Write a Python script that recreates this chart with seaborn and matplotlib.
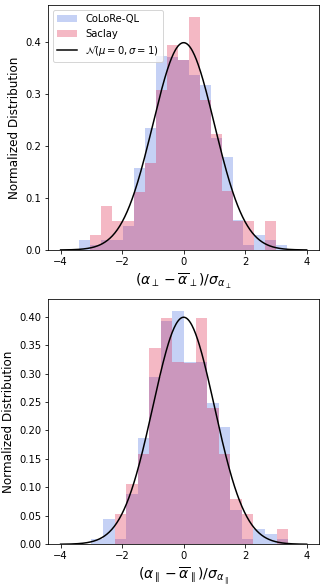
import numpy as np
import pandas as pd
import seaborn as sns
import matplotlib
matplotlib.use("Agg")
import matplotlib.pyplot as plt

# bin edges for each panel
perp_edges = list(np.linspace(-3.40, 3.37, 20))
par_edges = list(np.linspace(-3.00, 3.40, 18))

# normalized densities
perp_colore = [0.019, 0.010, 0.019, 0.019, 0.047, 0.157, 0.234, 0.374, 0.372, 0.365,
               0.336, 0.317, 0.215, 0.178, 0.057, 0.0096, 0.029, 0.019, 0.0096]
perp_saclay = [0.0, 0.028, 0.085, 0.056, 0.056, 0.111, 0.167, 0.307, 0.394, 0.365,
               0.449, 0.288, 0.224, 0.113, 0.056, 0.056, 0.0, 0.056, 0.0]

par_colore = [0.0088, 0.044, 0.0093, 0.089, 0.186, 0.294, 0.392, 0.410, 0.320,
              0.320, 0.249, 0.206, 0.060, 0.0093, 0.027, 0.018, 0.0093]
par_saclay = [0.0, 0.0, 0.053, 0.106, 0.159, 0.345, 0.398, 0.320, 0.318,
              0.398, 0.239, 0.159, 0.080, 0.053, 0.0, 0.0, 0.027]

xlabels = [r'$(\alpha_\perp - \overline{\alpha}_\perp)/\sigma_{\alpha_\perp}$',
           r'$(\alpha_\parallel - \overline{\alpha}_\parallel)/\sigma_{\alpha_\parallel}$']

xg = np.linspace(-4, 4, 400)
gauss = np.exp(-xg**2 / 2) / np.sqrt(2 * np.pi)

fig = plt.figure(figsize=(4.5, 586 / 72), dpi=72)
ax1 = fig.add_axes([0.149, 0.5734, 0.8356, 0.4181])
ax2 = fig.add_axes([0.149, 0.0712, 0.8356, 0.4181])

panels = [(ax1, perp_edges, perp_colore, perp_saclay, xlabels[0]),
          (ax2, par_edges, par_colore, par_saclay, xlabels[1])]

for ax, edges, colore, saclay, xl in panels:
    e = np.array(edges)
    df = pd.DataFrame({'c': 0.5 * (e[:-1] + e[1:]), 'colore': colore, 'saclay': saclay})
    sns.histplot(data=df, x='c', weights='colore', bins=edges, stat='count',
                 color='royalblue', alpha=0.3, linewidth=0,
                 label='CoLoRe-QL', ax=ax)
    sns.histplot(data=df, x='c', weights='saclay', bins=edges, stat='count',
                 color='crimson', alpha=0.3, linewidth=0,
                 label='Saclay', ax=ax)
    sns.lineplot(x=xg, y=gauss, color='black', lw=1.5,
                 label=r'$\mathcal{N}(\mu=0,\sigma=1)$', ax=ax, legend=False)
    ax.set_xlabel(xl, fontsize=14)
    ax.set_ylabel('Normalized Distribution', fontsize=12)
    ax.set_xticks([-4, -2, 0, 2, 4])
    ax.tick_params(labelsize=10)
    ax.margins(x=0.05, y=0.05)
    ax.set_ylim(bottom=0)

h, l = ax1.get_legend_handles_labels()
order = [l.index('CoLoRe-QL'), l.index('Saclay'), l.index(r'$\mathcal{N}(\mu=0,\sigma=1)$')]
ax1.legend([h[i] for i in order], [l[i] for i in order], loc='upper left', fontsize=10)
if ax2.get_legend() is not None:
    ax2.get_legend().remove()

fig.savefig('out.png', dpi=72)
